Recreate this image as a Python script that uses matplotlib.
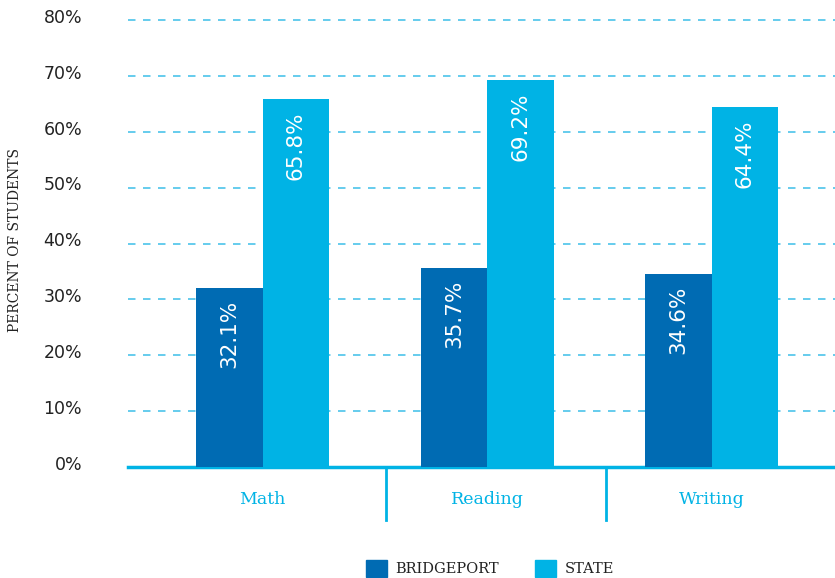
import numpy as np
import matplotlib.pyplot as plt
from matplotlib.patches import Patch
from matplotlib.transforms import ScaledTranslation

# Data
subjects = ["Math", "Reading", "Writing"]
bridgeport = [32.1, 35.7, 34.6]
state = [65.8, 69.2, 64.4]
yticks = [0, 10, 20, 30, 40, 50, 60, 70, 80]

dark_blue = "#006bb3"
light_blue = "#00b3e5"
grid_blue = "#4cc3ea"
text_dark = "#222222"

fig = plt.figure(figsize=(8.35, 5.78), dpi=100)
ax = fig.add_axes([0.1533, 0.192, 0.8467, 0.7734])

x = np.arange(len(subjects))
w = 0.296
b1 = ax.bar(x - w / 2, bridgeport, w, color=dark_blue, zorder=3)
b2 = ax.bar(x + w / 2, state, w, color=light_blue, zorder=3)

# value labels inside top of bars
for bars, vals in ((b1, bridgeport), (b2, state)):
    for rect, v in zip(bars, vals):
        ax.text(rect.get_x() + rect.get_width() / 2, v - 2.2, f"{v}%",
                rotation=90, ha="center", va="top", color="white",
                fontsize=15.5, family="DejaVu Sans", zorder=4)

ax.set_xlim(-0.60, 2.55)
ax.set_ylim(0, 80)
ax.set_yticks(yticks)
ax.set_yticklabels([f"{t}%" for t in yticks], fontsize=12.5, color=text_dark)
ax.tick_params(axis="y", length=0, pad=33)
ax.set_xticks([])
shift = ScaledTranslation(0, 3 / 72, fig.dpi_scale_trans)
for lbl in ax.get_yticklabels():
    lbl.set_transform(lbl.get_transform() + shift)

for t in yticks[1:]:
    ax.axhline(t, color=grid_blue, lw=1.2, ls=(0, (4.5, 4.5)), zorder=1, clip_on=False)

for s in ("top", "right", "left"):
    ax.spines[s].set_visible(False)
ax.spines["bottom"].set_color(light_blue)
ax.spines["bottom"].set_linewidth(2.5)

# category labels and dividers below the axis
for xi, name in zip(x, subjects):
    ax.text(xi, -5.9, name, ha="center", va="center", color=light_blue,
            fontsize=12.5, family="DejaVu Serif", clip_on=False)
for d in (0.548, 1.528):
    ax.plot([d, d], [0, -9.4], color=light_blue, lw=2, clip_on=False)

fig.text(0.018, 0.585, "PERCENT OF STUDENTS", rotation=90, ha="center",
         va="center", fontsize=10, family="DejaVu Serif", color=text_dark)

handles = [Patch(color=dark_blue), Patch(color=light_blue)]
leg = fig.legend(handles, ["BRIDGEPORT", "STATE"], loc="center",
                 bbox_to_anchor=(0.587, 0.017), ncol=2, frameon=False,
                 handlelength=1.4, handleheight=1.4, handletextpad=0.6,
                 columnspacing=2.5, prop={"family": "DejaVu Serif", "size": 10.5})
for t in leg.get_texts():
    t.set_color(text_dark)

plt.savefig("out.png", dpi=100)
plt.close()
